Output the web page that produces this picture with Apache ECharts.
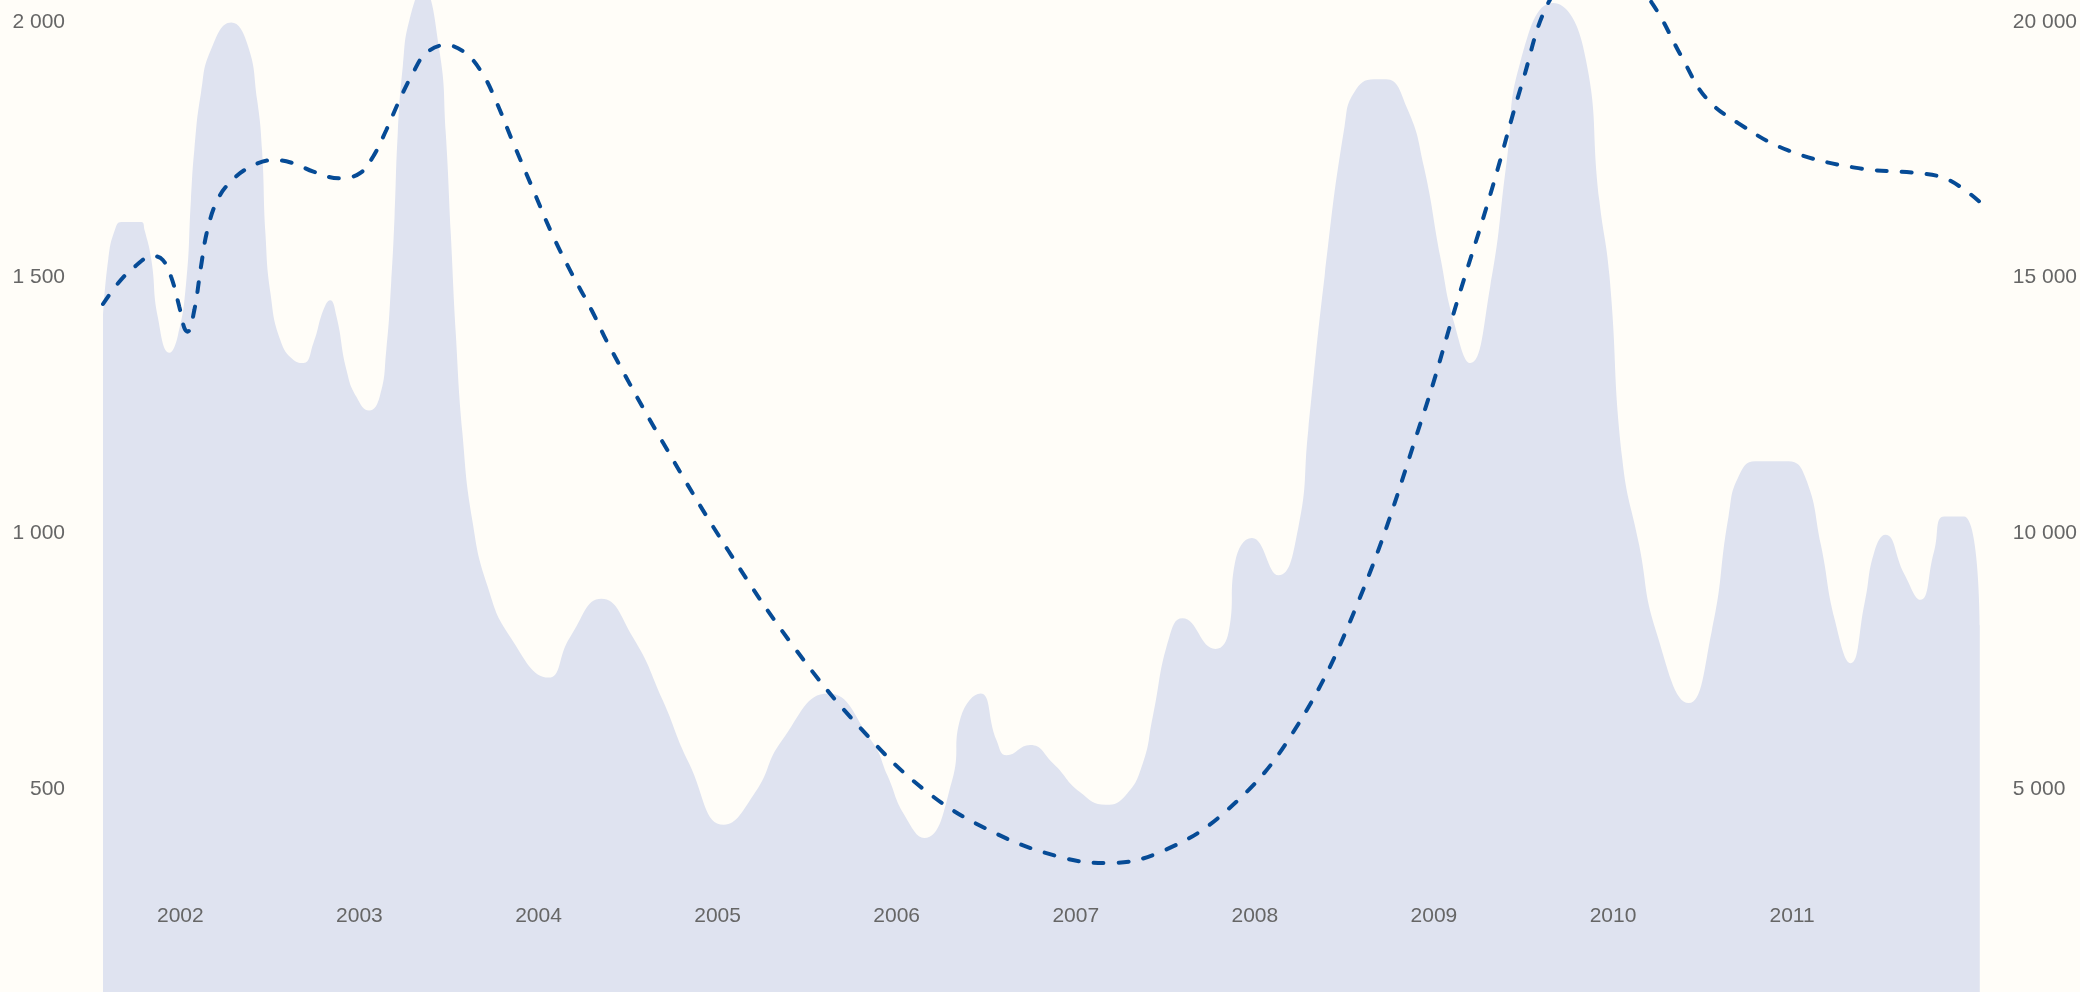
<!DOCTYPE html>
<html>
<head>
<meta charset="utf-8">
<script src="https://cdn.jsdelivr.net/npm/echarts@6/dist/echarts.min.js"></script>
<style>
  html, body { margin: 0; padding: 0; background: #fffdf8; }
  #chart { width: 2080px; height: 992px; }
</style>
</head>
<body>
<div id="chart"></div>
<script>
// ---- data ----
const yearTicks = [2002, 2003, 2004, 2005, 2006, 2007, 2008, 2009, 2010, 2011];
const leftTicks = [500, 1000, 1500, 2000];
const rightTicks = [5000, 10000, 15000, 20000];

// area series (left axis): time in decimal years, value
const areaYears = [
  2001.568, 2001.597, 2001.634, 2001.671, 2001.782, 2001.800, 2001.838, 2001.874, 2001.939, 2001.985,
  2002.032, 2002.059, 2002.078, 2002.115, 2002.170, 2002.284, 2002.373, 2002.429, 2002.456, 2002.475,
  2002.503, 2002.558, 2002.632, 2002.688, 2002.743, 2002.799, 2002.836, 2002.872, 2002.928, 2002.983,
  2003.054, 2003.113, 2003.150, 2003.177, 2003.196, 2003.214, 2003.242, 2003.279, 2003.353, 2003.446,
  2003.482, 2003.510, 2003.538, 2003.575, 2003.630, 2003.714, 2003.843, 2004.056, 2004.176, 2004.351,
  2004.527, 2004.693, 2004.841, 2005.035, 2005.211, 2005.359, 2005.617, 2005.858, 2005.948, 2006.043,
  2006.154, 2006.309, 2006.357, 2006.468, 2006.558, 2006.614, 2006.745, 2006.874, 2007.023, 2007.168,
  2007.279, 2007.374, 2007.429, 2007.522, 2007.595, 2007.780, 2007.854, 2007.889, 2007.984, 2008.132,
  2008.242, 2008.298, 2008.390, 2008.501, 2008.556, 2008.666, 2008.732, 2008.852, 2008.944, 2009.037,
  2009.111, 2009.203, 2009.314, 2009.407, 2009.481, 2009.665, 2009.832, 2009.924, 2009.980, 2010.052,
  2010.146, 2010.240, 2010.423, 2010.551, 2010.645, 2010.701, 2010.795, 2010.978, 2011.072, 2011.161,
  2011.239, 2011.327, 2011.405, 2011.460, 2011.521, 2011.627, 2011.716, 2011.793, 2011.849, 2011.960,
  2012.048
];
const areaValues = [
  1423, 1535, 1593, 1609, 1609, 1593, 1535, 1423, 1353, 1385,
  1489, 1652, 1750, 1861, 1945, 1999, 1958, 1847, 1750, 1587,
  1470, 1378, 1339, 1333, 1372, 1437, 1456, 1424, 1319, 1267,
  1240, 1267, 1359, 1489, 1619, 1783, 1913, 2004, 2065, 1945,
  1783, 1587, 1391, 1196, 1026, 898, 797, 718, 797, 872,
  797, 674, 550, 430, 494, 595, 687, 595, 527, 449,
  404, 516, 640, 687, 595, 566, 586, 550, 494, 469,
  488, 550, 640, 797, 834, 774, 808, 943, 991, 918,
  1010, 1201, 1504, 1796, 1863, 1888, 1888, 1830, 1717, 1538,
  1414, 1333, 1482, 1729, 1920, 2037, 1953, 1650, 1504, 1145,
  977, 809, 668, 808, 1033, 1111, 1141, 1141, 1111, 977,
  830, 746, 864, 965, 997, 920, 870, 965, 1033, 1033,
  820
];

// dashed line series (right axis)
const lineYears = [
  2001.568, 2001.652, 2001.745, 2001.846, 2001.902, 2001.948, 2001.994, 2002.022, 2002.040, 2002.078,
  2002.115, 2002.151, 2002.207, 2002.281, 2002.392, 2002.521, 2002.632, 2002.743, 2002.891, 2003.002,
  2003.076, 2003.150, 2003.224, 2003.298, 2003.371, 2003.482, 2003.593, 2003.686, 2003.760, 2003.852,
  2003.963, 2004.074, 2004.185, 2004.296, 2004.397, 2004.693, 2005.061, 2005.433, 2005.802, 2006.170,
  2006.542, 2006.912, 2007.168, 2007.466, 2007.834, 2008.205, 2008.575, 2008.943, 2009.130, 2009.314,
  2009.497, 2009.647, 2009.924, 2010.218, 2010.385, 2010.518, 2010.701, 2010.978, 2011.350, 2011.716,
  2011.849, 2011.960, 2012.048
];
const lineValues = [
  14485, 14890, 15214, 15424, 15345, 15019, 14432, 14016, 13943, 14367,
  15214, 15932, 16519, 16877, 17170, 17301, 17237, 17072, 16943, 17041,
  17365, 17888, 18475, 18997, 19388, 19550, 19388, 18997, 18475, 17692,
  16779, 15867, 15085, 14367, 13650, 11786, 9654, 7744, 6174, 4941,
  4151, 3670, 3553, 3758, 4550, 6060, 8641, 12347, 14536, 16616,
  18858, 20430, 21700, 20370, 19308, 18522, 18017, 17489, 17152, 17039,
  16949, 16726, 16480
];

// ---- build chart ----
const zip = (xs, ys) => xs.map((x, i) => [x, ys[i]]);
const fmt = v => String(v).replace(/\B(?=(\d{3})+(?!\d))/g, ' ');
const textStyle = { color: '#666666', fontSize: 21, fontFamily: 'Liberation Sans, Arial, sans-serif' };

const chart = echarts.init(document.getElementById('chart'), null, { renderer: 'canvas' });
chart.setOption({
  backgroundColor: '#fffdf8',
  animation: false,
  grid: { left: 103, right: 87, top: 0, bottom: 0, containLabel: false },
  xAxis: {
    type: 'value',
    min: areaYears[0],
    max: areaYears[areaYears.length - 1],
    offset: -86.2,
    z: 10,
    axisLine: { show: false },
    axisTick: { show: false },
    splitLine: { show: false },
    axisLabel: Object.assign({
      customValues: yearTicks,
      margin: 0,
      formatter: v => String(Math.round(v))
    }, textStyle)
  },
  yAxis: [
    {
      type: 'value', min: 103, max: 2043, position: 'left',
      axisLine: { show: false }, axisTick: { show: false }, splitLine: { show: false },
      axisLabel: Object.assign({ customValues: leftTicks, margin: 38, formatter: v => fmt(v) }, textStyle)
    },
    {
      type: 'value', min: 1030, max: 20430, position: 'right',
      axisLine: { show: false }, axisTick: { show: false }, splitLine: { show: false },
      axisLabel: Object.assign({ customValues: rightTicks, margin: 33, formatter: v => fmt(v) }, textStyle)
    }
  ],
  series: [
    {
      type: 'line',
      data: zip(areaYears, areaValues),
      yAxisIndex: 0,
      smooth: 0.5,
      symbol: 'none',
      lineStyle: { width: 0, color: '#dfe3f0' },
      areaStyle: { color: '#dfe3f0', opacity: 1 },
      z: 1
    },
    {
      type: 'line',
      data: zip(lineYears, lineValues),
      yAxisIndex: 1,
      smooth: 0.4,
      symbol: 'none',
      lineStyle: { width: 4, color: '#064b96', type: [10, 15], cap: 'round' },
      z: 3
    }
  ]
});
</script>
</body>
</html>
